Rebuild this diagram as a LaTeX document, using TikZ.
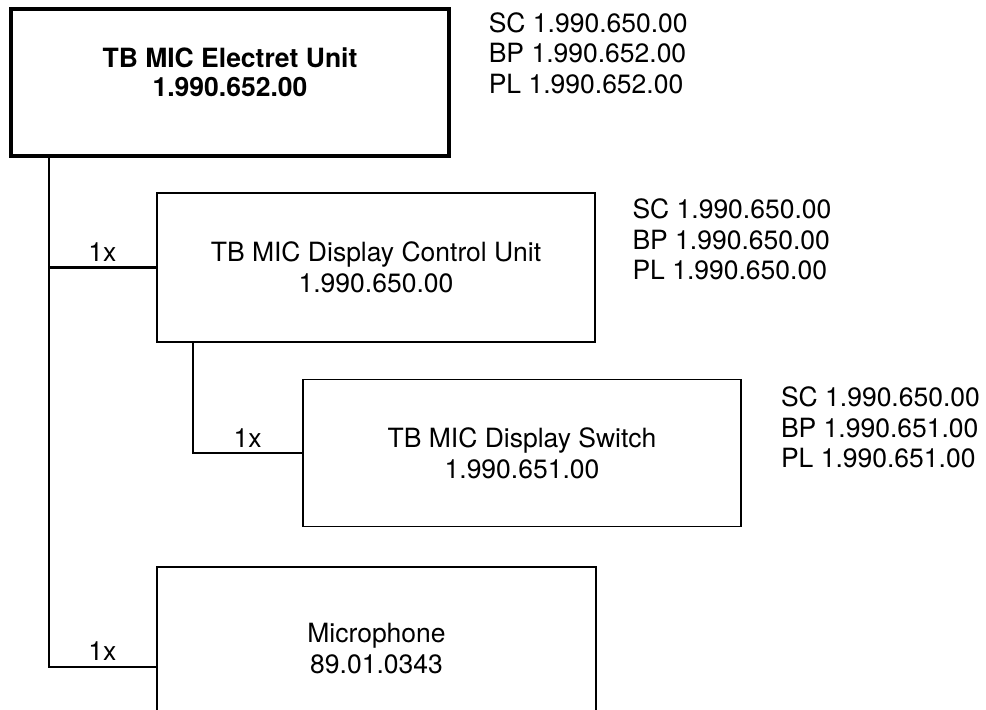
\documentclass[tikz,border=0pt]{standalone}
\usepackage{fontspec}
\setmainfont{TeX Gyre Heros}
\usetikzlibrary{positioning}

\begin{document}
\begin{tikzpicture}[
  x=1pt, y=-1pt,
  box/.style={
    draw,
    align=center,
    inner sep=0pt,
    font=\fontsize{26.5}{31}\selectfont
  },
  codes/.style={align=left, inner sep=0pt, font=\fontsize{26.5}{30.5}\selectfont},
  qty/.style={above, inner sep=5pt, font=\fontsize{26.5}{31}\selectfont},
  link/.style={line width=2.6pt}
]
\useasboundingbox (0,0) rectangle (986,710);
\clip (0,0) rectangle (986,710);

\node[box, line width=3.2pt, minimum width=438pt, minimum height=147pt, text depth=20pt,
  font=\fontsize{26.5}{29}\selectfont\bfseries] (electret) at (230,82.5)
  {TB MIC Electret Unit\\1.990.652.00};
\node[box, line width=2.6pt, minimum width=438pt, minimum height=149pt] (ctrl) at (376,267.5)
  {TB MIC Display Control Unit\\1.990.650.00};
\node[box, line width=1.6pt, minimum width=438pt, minimum height=147pt] (switch) at (522,453)
  {TB MIC Display Switch\\1.990.651.00};
\node[box, line width=2.6pt, minimum width=439pt, minimum height=164pt] (mic) at (376.5,649)
  {Microphone\\89.01.0343};

\node[codes, below right=5pt and 38pt of electret.north east] (electretcodes)
  {SC 1.990.650.00\\BP 1.990.652.00\\PL 1.990.652.00};
\node[codes, below right=7pt and 36pt of ctrl.north east] (ctrlcodes)
  {SC 1.990.650.00\\BP 1.990.650.00\\PL 1.990.650.00};
\node[codes, below right=8pt and 39pt of switch.north east] (switchcodes)
  {SC 1.990.650.00\\BP 1.990.651.00\\PL 1.990.651.00};

\coordinate (trunk) at (49,0);
\coordinate (branch) at (193,0);
\coordinate (micin) at ([yshift=-18pt]mic.west);
\draw[link] (trunk |- electret.south) |- node[qty, pos=0.75]{1x} (micin);
\draw[link] (trunk |- ctrl.west) -- node[qty, midway]{1x} (ctrl.west);
\draw[line width=2pt] (branch |- ctrl.south) |- node[qty, pos=0.75]{1x} (switch.west);
\end{tikzpicture}
\end{document}
